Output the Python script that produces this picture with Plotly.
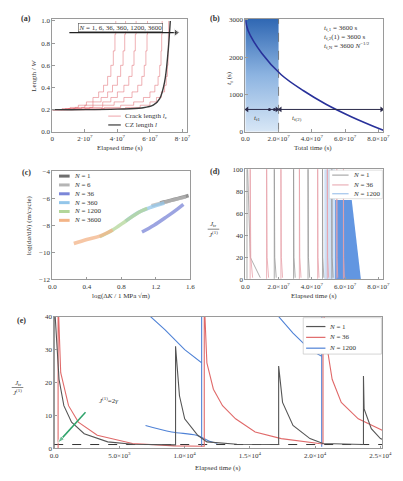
import plotly.graph_objects as go

W, H = 403, 481
FONT = "Liberation Serif"
TXT = "#333333"

# ---------------- (a) crack / CZ length vs elapsed time ----------------
a_crack_t = {
    "N1":    [0, 0.6e7, 1.1e7, 1.6e7, 2.1e7, 2.5e7, 2.85e7, 3.15e7, 3.4e7, 3.6e7, 3.75e7, 3.85e7, 3.9e7],
    "N6":    [0, 0.8e7, 1.4e7, 2.0e7, 2.5e7, 3.0e7, 3.4e7, 3.7e7, 4.0e7, 4.2e7, 4.35e7, 4.45e7, 4.5e7],
    "N36":   [0, 1.0e7, 1.8e7, 2.5e7, 3.1e7, 3.6e7, 4.0e7, 4.4e7, 4.7e7, 4.9e7, 5.02e7, 5.1e7, 5.15e7],
    "N360":  [0, 1.3e7, 2.3e7, 3.1e7, 3.8e7, 4.4e7, 4.9e7, 5.25e7, 5.5e7, 5.65e7, 5.75e7, 5.82e7, 5.85e7],
    "N1200": [0, 2.0e7, 3.2e7, 4.2e7, 5.0e7, 5.6e7, 6.0e7, 6.3e7, 6.5e7, 6.6e7, 6.68e7, 6.72e7, 6.75e7],
    "N3600": [0, 3.0e7, 4.5e7, 5.4e7, 6.0e7, 6.4e7, 6.7e7, 6.9e7, 7.0e7, 7.07e7, 7.11e7, 7.13e7, 7.15e7],
}
a_crack_len = [0.2, 0.21, 0.22, 0.24, 0.27, 0.31, 0.36, 0.42, 0.5, 0.6, 0.73, 0.88, 1.0]
a_cz_t = [0, 2.0e7, 4.0e7, 5.5e7, 6.2e7, 6.6e7, 6.9e7, 7.1e7, 7.25e7]
a_cz_len = [0.2, 0.2, 0.205, 0.215, 0.24, 0.3, 0.45, 0.7, 1.0]
a_arrow_t = [1.05e7, 7.6e7]
a_arrow_y = [0.895, 0.895]

# ---------------- (b) time to failure vs total time ----------------
b_t = [0, 0.17e7, 1.0e7, 2.16e7, 3.5e7, 4.85e7, 6.4e7, 8.3e7]
b_tf = [3030, 2710, 2100, 1530, 1100, 740, 400, 40]
b_split = 2.0e7
b_arrow_level = 600
b_arrow1_t = [0.1e7, 1.9e7]
b_arrow2_t = [2.1e7, 8.2e7]
b_dot_t = [1.45e7, 1.75e7]

# ---------------- (c) Paris-type curves ----------------
c_names = ["N = 1", "N = 6", "N = 36", "N = 360", "N = 1200", "N = 3600"]
c_colors = ["#6e6e6e", "#b5b5b5", "#7b86d8", "#93c6ea", "#b3d699", "#f3b487"]
c_x = [
    [1.25, 1.38, 1.5, 1.58],
    [1.15, 1.3, 1.45, 1.55],
    [1.04, 1.18, 1.32, 1.45, 1.52],
    [0.85, 1.0, 1.15, 1.3],
    [0.55, 0.7, 0.85, 1.0, 1.1],
    [0.25, 0.4, 0.55, 0.7],
]
c_y = [
    [-6.35, -6.15, -5.95, -5.8],
    [-6.55, -6.3, -6.05, -5.9],
    [-8.5, -8.0, -7.4, -6.8, -6.45],
    [-7.7, -7.05, -6.65, -6.35],
    [-8.85, -8.35, -7.7, -7.05, -6.75],
    [-9.35, -9.05, -8.8, -8.35],
]

# ---------------- (d) J ratio, long time ----------------
d_N1_spike_t = [0.1e7, 1.74e7, 2.9e7, 3.77e7, 4.64e7, 5.2e7]
d_N1_tail = [0.8e7, 0.12e7, 0.1e7, 0.1e7, 0.08e7, 0.08e7]
d_N36_spike_t = [0.29e7, 1.28e7, 2.14e7, 3.25e7, 4.35e7, 4.93e7, 5.5e7, 5.9e7]
d_N36_tail = [0.15e7, 0.12e7, 0.1e7, 0.1e7, 0.08e7, 0.08e7, 0.06e7, 0.06e7]
d_N1200_light_t = [4.75e7, 4.75e7, 5.4e7, 5.4e7]
d_N1200_light_v = [0, 100, 100, 0]
d_N1200_dark_t = [5.4e7, 5.4e7, 6.4e7, 6.95e7]
d_N1200_dark_v = [0, 72, 72, 0]

# ---------------- (e) J ratio, short time ----------------
e_N1_t = [0, 0, 370, 740, 1330, 2300, 4100, 6000, 9300, 9300, 9600, 10000, 11000, 11700, 14000,
          17200, 17200, 17500, 18300, 19600, 20600, 23700, 23700, 23750, 24300, 25000, 25300]
e_N1_v = [0, 45, 21, 13, 8, 4.5, 2, 1.3, 1.1, 31, 16, 9, 4, 2, 1.3,
          1.2, 25, 14, 7, 3, 1.5, 1.2, 22, 12, 6, 3, 2.5]
e_N36_t = [300, 300, 500, 1100, 1850, 3300, 6000, 9200, 11500, 11500, 11700, 12200, 12900, 13900,
           15400, 17400, 20300, 20600, 20600, 20900, 21300, 22000, 23300, 25000, 25300]
e_N36_v = [0, 45, 23, 13, 8, 4, 1.5, 0.8, 0.7, 45, 26, 18, 13, 9,
           5, 3, 1.5, 1.4, 45, 31, 21, 14, 9, 5.7, 5.2]
e_N1200_t = [7250, 8500, 10000, 11300, 11300, 11300, None, 17100, 18300, 19600, 20500, 20500, 20500]
e_N1200_v = [40.5, 36, 30, 26, 0.5, 45, None, 40.5, 35, 30, 28, 0.5, 45]
e_N1200_low_t = [7000, 9000, 10900, 11900, 12500]
e_N1200_low_v = [7, 5, 4, 2.2, 1.6]
e_threshold = 1.2
e_green_arrow_t = [2400, 250]
e_green_arrow_v = [11, 1.6]


def X(p):
    return p / W


def Y(p):
    return 1 - p / H


fig = go.Figure()

# ---- (a)
for k, ts in a_crack_t.items():
    fig.add_trace(go.Scatter(x=ts, y=a_crack_len, mode="lines", line=dict(color="rgba(222,90,100,0.6)", width=0.8, shape="hv"),
                             xaxis="x", yaxis="y", showlegend=False))
fig.add_trace(go.Scatter(x=a_cz_t, y=a_cz_len, mode="lines", line=dict(color="#3a3a3a", width=1.4, shape="spline"),
                         xaxis="x", yaxis="y", showlegend=False))
fig.add_trace(go.Scatter(x=a_arrow_t, y=a_arrow_y, mode="lines+markers", line=dict(color="#222", width=1.2),
                         marker=dict(symbol=["circle", "triangle-right"], size=[0, 7], color="#222"),
                         xaxis="x", yaxis="y", showlegend=False, cliponaxis=False))

# ---- (b)
fig.add_trace(go.Scatter(x=[0, 0, b_split, b_split, 0], y=[0, 3030, 3030, 0, 0], fill="toself", mode="lines",
                         line=dict(width=0), fillgradient=dict(type="vertical",
                         colorscale=[[0, "#d8e7f6"], [0.5, "#8db4e1"], [1, "#2f67b3"]]),
                         xaxis="x2", yaxis="y2", showlegend=False, hoverinfo="skip"))
fig.add_trace(go.Scatter(x=[b_split, b_split], y=[0, 3030], mode="lines", line=dict(color="#666", width=0.8, dash="dash"),
                         xaxis="x2", yaxis="y2", showlegend=False))
fig.add_trace(go.Scatter(x=b_t, y=b_tf, mode="lines", line=dict(color="#28319a", width=1.6, shape="spline"),
                         xaxis="x2", yaxis="y2", showlegend=False))
for seg in (b_arrow1_t, b_arrow2_t):
    fig.add_trace(go.Scatter(x=seg, y=[b_arrow_level] * 2, mode="lines+markers", line=dict(color="#2a2a4a", width=1),
                             marker=dict(symbol=["triangle-left", "triangle-right"], size=5, color="#2a2a4a"),
                             xaxis="x2", yaxis="y2", showlegend=False, cliponaxis=False))
fig.add_trace(go.Scatter(x=b_dot_t, y=[b_arrow_level] * 2, mode="markers", marker=dict(color="#2a2a4a", size=3),
                         xaxis="x2", yaxis="y2", showlegend=False))

# ---- (c)
for nm, col, xs, ys in zip(c_names, c_colors, c_x, c_y):
    fig.add_trace(go.Scatter(x=xs, y=ys, mode="lines", line=dict(color=col, width=3.5, shape="spline"), opacity=0.75,
                             xaxis="x3", yaxis="y3", showlegend=False))

# ---- (d)
def spikes(ts, tails):
    xs, ys = [], []
    for t, w in zip(ts, tails):
        xs += [t, t, t + 0.25 * w, t + w, None]
        ys += [0.5, 120, 20, 1.5, None]
    return xs, ys

fig.add_trace(go.Scatter(x=d_N1200_light_t, y=d_N1200_light_v, fill="toself", mode="lines", line=dict(width=0),
                         fillcolor="rgba(120,170,230,0.35)", xaxis="x4", yaxis="y4", showlegend=False))
fig.add_trace(go.Scatter(x=d_N1200_dark_t, y=d_N1200_dark_v, fill="toself", mode="lines", line=dict(width=0),
                         fillcolor="rgba(45,115,215,0.75)", xaxis="x4", yaxis="y4", showlegend=False))
sx, sy = spikes(d_N1_spike_t, d_N1_tail)
fig.add_trace(go.Scatter(x=sx, y=sy, mode="lines", line=dict(color="#999999", width=0.8),
                         xaxis="x4", yaxis="y4", showlegend=False))
sx, sy = spikes(d_N36_spike_t, d_N36_tail)
fig.add_trace(go.Scatter(x=sx, y=sy, mode="lines", line=dict(color="#e7a1aa", width=0.8),
                         xaxis="x4", yaxis="y4", showlegend=False))

# ---- (e)
fig.add_trace(go.Scatter(x=[0, 25300], y=[e_threshold, e_threshold], mode="lines",
                         line=dict(color="#333", width=1, dash="dash"), xaxis="x5", yaxis="y5", showlegend=False))
fig.add_trace(go.Scatter(x=e_N1200_t, y=e_N1200_v, mode="lines", line=dict(color="#4f82d6", width=1.1),
                         xaxis="x5", yaxis="y5", showlegend=False))
fig.add_trace(go.Scatter(x=e_N1200_low_t, y=e_N1200_low_v, mode="lines", line=dict(color="#4f82d6", width=1.1, shape="spline"),
                         xaxis="x5", yaxis="y5", showlegend=False))
fig.add_trace(go.Scatter(x=e_N36_t, y=e_N36_v, mode="lines", line=dict(color="#e06a6a", width=1.1),
                         xaxis="x5", yaxis="y5", showlegend=False))
fig.add_trace(go.Scatter(x=e_N1_t, y=e_N1_v, mode="lines", line=dict(color="#555555", width=1.1),
                         xaxis="x5", yaxis="y5", showlegend=False))
fig.add_trace(go.Scatter(x=e_green_arrow_t, y=e_green_arrow_v, mode="lines+markers", line=dict(color="#2fa36b", width=1.5),
                         marker=dict(symbol="arrow", angleref="previous", size=[0, 8], color="#2fa36b"),
                         xaxis="x5", yaxis="y5", showlegend=False, cliponaxis=False))

# ---------------- axes ----------------
def ax(domain, rng, tickvals=None, ticktext=None, anchor=None):
    d = dict(domain=domain, range=rng, showline=True, linecolor="#9a9a9a", linewidth=0.8, mirror=True,
             ticks="inside", ticklen=2.5, tickcolor="#9a9a9a", tickfont=dict(size=7, color=TXT, family=FONT),
             showgrid=False, zeroline=False, anchor=anchor)
    if tickvals is not None:
        d["tickvals"] = tickvals
    if ticktext is not None:
        d["ticktext"] = ticktext
    return d

sci7 = ["0.0", "2.0×10<sup>7</sup>", "4.0×10<sup>7</sup>", "6.0×10<sup>7</sup>", "8.0×10<sup>7</sup>"]
v7 = [0, 2e7, 4e7, 6e7, 8e7]

layout = dict(
    width=W, height=H, margin=dict(l=0, r=0, t=0, b=0), paper_bgcolor="white", plot_bgcolor="white",
    font=dict(family=FONT, size=7, color=TXT), showlegend=False,
    xaxis=ax([X(50), X(190)], [0, 8.3e7], v7, ["0", "2·10<sup>7</sup>", "4·10<sup>7</sup>", "6·10<sup>7</sup>", "8·10<sup>7</sup>"], "y"),
    yaxis=ax([Y(130), Y(15)], [0, 1.02], [0, 0.2, 0.4, 0.6, 0.8, 1.0], ["0.0", "0.2", "0.4", "0.6", "0.8", "1.0"], "x"),
    xaxis2=ax([X(250), X(393)], [0, 8.3e7], v7, sci7, "y2"),
    yaxis2=ax([Y(130), Y(15)], [0, 3030], [0, 1000, 2000, 3000], ["0", "1000", "2000", "3000"], "x2"),
    xaxis3=ax([X(50), X(193)], [0, 1.6], [0, 0.4, 0.8, 1.2, 1.6], ["0.0", "0.4", "0.8", "1.2", "1.6"], "y3"),
    yaxis3=ax([Y(280), Y(170)], [-12, -4], [-12, -10, -8, -6, -4], ["−12", "−10", "−8", "−6", "−4"], "x3"),
    xaxis4=ax([X(250), X(393)], [0, 8.3e7], v7, sci7, "y4"),
    yaxis4=ax([Y(280), Y(168)], [0, 100], [0, 20, 40, 60, 80, 100], None, "x4"),
    xaxis5=ax([X(52), X(392)], [0, 25150], [0, 5000, 10000, 15000, 20000, 25000],
              ["0.0", "5.0×10<sup>3</sup>", "1.0×10<sup>4</sup>", "1.5×10<sup>4</sup>", "2.0×10<sup>4</sup>", "2.5×10<sup>4</sup>"], "y5"),
    yaxis5=ax([Y(452), Y(318)], [0, 40], [0, 10, 20, 30, 40], None, "x5"),
)

ann = []
shapes = []

def text(xp, yp, s, size=7, xanchor="center", yanchor="middle", angle=0, color=TXT):
    ann.append(dict(x=X(xp), y=Y(yp), xref="paper", yref="paper", text=s, showarrow=False,
                    font=dict(size=size, color=color, family=FONT), xanchor=xanchor, yanchor=yanchor, textangle=angle))

def legend_entry(x0, x1, yp, color, label, width=1.2, size=7):
    shapes.append(dict(type="line", xref="paper", yref="paper", x0=X(x0), x1=X(x1), y0=Y(yp), y1=Y(yp),
                       line=dict(color=color, width=width)))
    text(x1 + 2, yp, label, size=size, xanchor="left")

# panel labels
text(23, 15, "<b>(a)</b>", 8)
text(219, 15, "<b>(b)</b>", 8)
text(23, 171, "<b>(c)</b>", 8)
text(219, 170, "<b>(d)</b>", 8)
text(18, 322, "<b>(e)</b>", 8)

# axis titles
text(120, 146, "Elapsed time (s)")
text(31, 73, "Length / <i>W</i>", angle=-90)
text(320, 146, "Total time (s)")
text(233, 75, "<i>t</i><sub>f</sub> (s)", angle=-90)
text(121, 297, "log(Δ<i>K</i> / 1 MPa √m)")
text(26, 225, "log(d<i>a</i>/d<i>N</i>) (m/cycle)", angle=-90)
text(321, 297, "Elapsed time (s)")
text(222, 472, "Elapsed time (s)")
for (xc, yc) in [(217, 229), (14, 390)]:
    text(xc, yc - 5, "<i>J</i><sub>tr</sub>", 7)
    text(xc, yc + 5, "<i>J</i><sup>(1)</sup>", 7)
    shapes.append(dict(type="line", xref="paper", yref="paper", x0=X(xc - 6), x1=X(xc + 6), y0=Y(yc), y1=Y(yc),
                       line=dict(color=TXT, width=0.6)))

# (a) annotations
ann.append(dict(x=4.2e7, y=0.945, xref="x", yref="y", text="<i>N</i> = 1, 6, 36, 360, 1200, 3600", showarrow=False,
                font=dict(size=7, family=FONT, color=TXT), bordercolor="#555", borderwidth=0.6, borderpad=0, bgcolor="white"))
legend_entry(108, 121, 114, "rgba(222,90,100,0.7)", "Crack length <i>l</i><sub>c</sub>", 0.8, 7)
legend_entry(108, 121, 123, "#3a3a3a", "CZ length <i>l</i>", 1.2, 7)

# (b) annotations
ann.append(dict(x=0.75e7, y=380, xref="x2", yref="y2", text="<i>t</i><sub>f1</sub>", showarrow=False, font=dict(size=7, family=FONT, color=TXT)))
ann.append(dict(x=3.1e7, y=380, xref="x2", yref="y2", text="<i>t</i><sub>f(2)</sub>", showarrow=False, font=dict(size=7, family=FONT, color=TXT)))
text(329, 25, "<i>t</i><sub>f,1</sub> = 3600 s", 7, xanchor="left")
text(329, 34, "<i>t</i><sub>f,2</sub>(1) = 3600 s", 7, xanchor="left")
text(329, 43, "<i>t</i><sub>f,N</sub> = 3600 <i>N</i><sup>−1/2</sup>", 7, xanchor="left")

# (c) legend
for i, (nm, col) in enumerate(zip(c_names, c_colors)):
    legend_entry(57, 68, [175, 184, 193, 202, 211, 220][i], col, "<i>N</i>" + nm[1:], 3, 7)

# (d) legend
shapes.append(dict(type="rect", xref="paper", yref="paper", x0=X(337), x1=X(392), y0=Y(198), y1=Y(169),
                   fillcolor="white", line=dict(color="#cccccc", width=0.6), layer="above"))
legend_entry(340, 357, 174, "#999999", "<i>N</i> = 1", 1, 7)
legend_entry(340, 357, 184, "#e7a1aa", "<i>N</i> = 36", 1, 7)
legend_entry(340, 357, 193, "#8fb8e8", "<i>N</i> = 1200", 1, 7)

# (e) legend and annotation
shapes.append(dict(type="rect", xref="paper", yref="paper", x0=X(310), x1=X(391), y0=Y(356), y1=Y(319),
                   fillcolor="white", line=dict(color="#bbbbbb", width=0.6), layer="above"))
legend_entry(313, 333, 328, "#555555", "<i>N</i> = 1", 1.2, 7)
legend_entry(313, 333, 339, "#e06a6a", "<i>N</i> = 36", 1.2, 7)
legend_entry(313, 333, 350, "#4f82d6", "<i>N</i> = 1200", 1.2, 7)
ann.append(dict(x=3300, y=14.5, xref="x5", yref="y5", text="<i>J</i><sup>(1)</sup>=2<i>γ</i>", showarrow=False,
                font=dict(size=7, family=FONT, color=TXT), xanchor="left"))

layout["annotations"] = ann
layout["shapes"] = shapes
fig.update_layout(**layout)
fig.write_html("out.html")
